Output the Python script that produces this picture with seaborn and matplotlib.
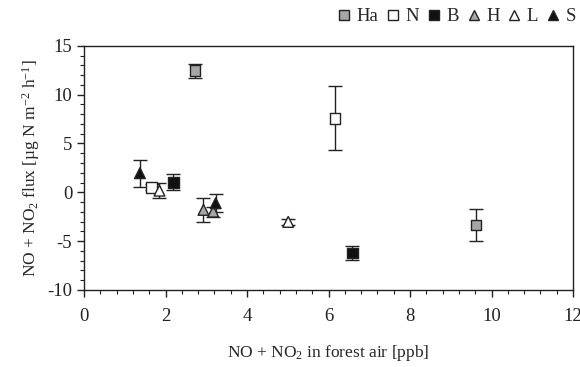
import matplotlib
matplotlib.use("Agg")
import matplotlib.pyplot as plt
from matplotlib.lines import Line2D
from matplotlib.ticker import MultipleLocator
import seaborn as sns
import pandas as pd

# Daten
sites = ['S', 'N', 'L', 'B', 'Ha', 'H', 'H', 'S', 'L', 'N', 'B', 'Ha']
air_conc = [1.37, 1.66, 1.85, 2.19, 2.72, 2.93, 3.17, 3.23, 5.01, 6.16, 6.58, 9.62]
flux = [1.96, 0.52, 0.17, 1.03, 12.44, -1.80, -1.98, -1.12, -3.03, 7.59, -6.21, -3.34]
flux_err = [1.4, 0.3, 0.75, 0.8, 0.75, 1.2, 0.5, 0.93, 0.3, 3.25, 0.7, 1.6]

legend_order = ['Ha', 'N', 'B', 'H', 'L', 'S']
face_colors = {'Ha': '#a6a6a6', 'N': 'white', 'B': '#111111',
               'H': '#a6a6a6', 'L': 'white', 'S': '#111111'}
marker_map = {'Ha': 's', 'N': 's', 'B': 's', 'H': '^', 'L': '^', 'S': '^'}

df = pd.DataFrame({'Site': sites, 'Air': air_conc, 'Flux': flux, 'Err': flux_err})

sns.set_style("ticks")
plt.rcParams['font.family'] = ['Liberation Serif', 'DejaVu Serif']
plt.rcParams['mathtext.fontset'] = 'custom'
plt.rcParams['mathtext.rm'] = 'Liberation Serif'
plt.rcParams['mathtext.it'] = 'Liberation Serif:italic'
plt.rcParams['axes.unicode_minus'] = False

fig = plt.figure(figsize=(5.8, 3.67), dpi=100)
ax = fig.add_axes([0.145, 0.21, 0.843, 0.665])

# Fehlerbalken zuerst
ax.errorbar(df['Air'], df['Flux'], yerr=df['Err'], fmt='none',
            ecolor='#222222', elinewidth=1.0, capsize=5, capthick=1.0, zorder=2)

sns.scatterplot(data=df, x='Air', y='Flux', hue='Site', style='Site',
                palette=face_colors, markers=marker_map, s=60,
                edgecolor='#222222', linewidth=1.0, legend=False, ax=ax, zorder=3)

ax.set_xlim(0, 12)
ax.set_ylim(-10, 15)
ax.xaxis.set_major_locator(MultipleLocator(2))
ax.xaxis.set_minor_locator(MultipleLocator(0.4))
ax.yaxis.set_major_locator(MultipleLocator(5))
ax.yaxis.set_minor_locator(MultipleLocator(1))
ax.tick_params(which='major', direction='out', length=5, width=1, labelsize=13.5, colors='#222222')
ax.tick_params(which='minor', direction='out', length=3, width=0.8, colors='#222222')
ax.tick_params(axis='x', pad=8)

for sp in ax.spines.values():
    sp.set_visible(True)
    sp.set_linewidth(1.0)
    sp.set_color('#222222')

ax.set_xlabel('NO + NO$_2$ in forest air [ppb]', fontsize=12.5, labelpad=13)
ax.set_ylabel('NO + NO$_2$ flux [µg N m$^{-2}$ h$^{-1}$]', fontsize=12.5, labelpad=4)

# Legende manuell
handles = [Line2D([0], [0], marker=marker_map[s], linestyle='none',
                  markerfacecolor=face_colors[s], markeredgecolor='#222222',
                  markeredgewidth=1.0, markersize=6.5, label=s) for s in legend_order]
fig.legend(handles=handles, loc='upper right', bbox_to_anchor=(1.012, 1.008), ncol=6,
           frameon=False, fontsize=13.5, handlelength=0.5, handletextpad=0.4,
           columnspacing=0.55, borderaxespad=0.2)

plt.savefig('out.png', dpi=100)
